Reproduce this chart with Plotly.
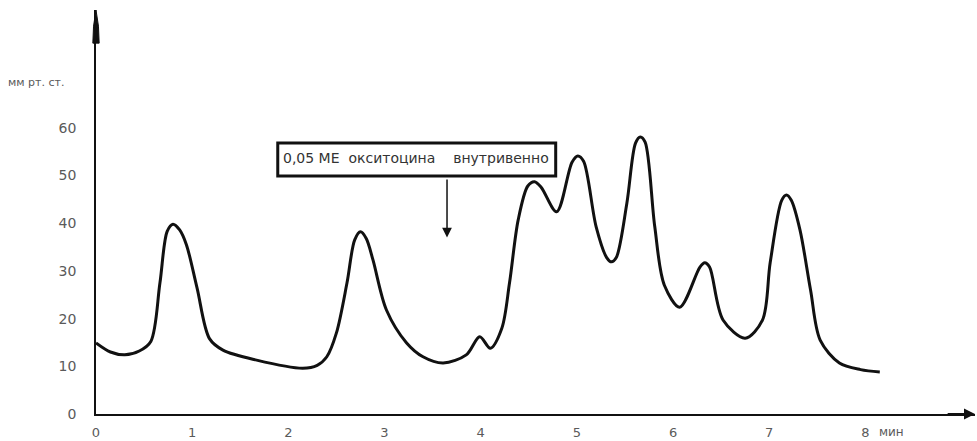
import plotly.graph_objects as go

# Intrauterine pressure trace, time in minutes
time_min = [0.00, 0.15, 0.30, 0.45, 0.57, 0.665, 0.74, 0.80, 0.87, 0.94,
            1.05, 1.18, 1.32, 1.67, 2.15, 2.30, 2.40, 2.50, 2.61,
            2.69, 2.75, 2.81, 2.88, 3.02, 3.23, 3.40, 3.61, 3.85, 3.99,
            4.10, 4.22, 4.30, 4.39, 4.49, 4.56, 4.63, 4.79,
            4.95, 5.01, 5.07, 5.20, 5.31, 5.36, 5.41, 5.52, 5.61, 5.66, 5.71, 5.81,
            5.91, 6.07, 6.28, 6.33, 6.38, 6.52, 6.75,
            6.93, 7.01, 7.13, 7.18, 7.23, 7.32, 7.43, 7.53, 7.73, 7.95,
            8.15]
pressure = [14.9, 13.0, 12.4, 13.2, 15.2, 27.5, 38.3, 39.8, 38.6, 35.5,
            26.5, 15.8, 13.4, 11.3, 9.6, 10.2, 12.0, 17.0, 27.5,
            36.5, 38.2, 36.8, 32.3, 21.8, 14.9, 12.0, 10.7, 12.4, 16.2,
            13.8, 18.0, 27.5, 40.7, 47.8, 48.7, 47.5, 42.4,
            52.8, 54.1, 53.0, 39.3, 32.8, 31.9, 32.8, 44.2, 56.8, 58.1, 57.0, 39.3,
            27.0, 22.4, 30.8, 31.7, 30.8, 19.7, 15.9,
            19.7, 31.7, 44.8, 45.9, 44.8, 38.6, 26.0, 15.5, 10.7, 9.3,
            8.8]

y_ticks = [0, 10, 20, 30, 40, 50, 60]
x_ticks = [0, 1, 2, 3, 4, 5, 6, 7, 8]

note_text = "0,05 МЕ  окситоцина    внутривенно"
note_time = 3.65
y_unit = "мм рт. ст."
x_unit = "мин"

X_MAX = 9.14
Y_MAX = 84.7
FONT = "DejaVu Sans"
GREY = "#5a5a5a"
INK = "#111111"

fig = go.Figure()
fig.add_trace(go.Scatter(
    x=time_min, y=pressure, mode="lines",
    line=dict(color=INK, width=3, shape="spline", smoothing=0.9),
    hoverinfo="skip", showlegend=False,
))

fig.update_layout(
    template="none",
    width=977, height=441,
    margin=dict(l=96, r=2, t=10, b=27),
    paper_bgcolor="white", plot_bgcolor="white",
    font=dict(family=FONT, color=GREY, size=13),
    xaxis=dict(range=[0, X_MAX], tickvals=x_ticks, ticktext=[str(v) for v in x_ticks],
               showgrid=False, zeroline=False, showline=True, linecolor=INK,
               linewidth=1.5, ticks="", ticklabelstandoff=6,
               tickfont=dict(size=13, color=GREY, family=FONT)),
    yaxis=dict(range=[0, Y_MAX], tickvals=y_ticks, showgrid=False, zeroline=False,
               showline=True, linecolor=INK, linewidth=1.5, ticks="",
               ticklabelstandoff=15,
               tickfont=dict(size=14, color=GREY, family=FONT)),
)

# Axis arrowheads: a narrow spike on the vertical axis, a small head on the time axis
fig.add_shape(type="path", xref="paper", yref="paper",
              path="M -0.0036,0.918 L -0.0028,0.96 L 0,1.0 L 0.0028,0.96 L 0.0036,0.918 Z",
              fillcolor=INK, line=dict(color=INK, width=1))
fig.add_annotation(x=X_MAX, y=0, ax=X_MAX - 0.3, ay=0, xref="x", yref="y", axref="x", ayref="y",
                   showarrow=True, arrowhead=2, arrowsize=1.1, arrowwidth=2,
                   arrowcolor=INK, text="")

# Axis units
fig.add_annotation(x=-0.068, y=0.82, xref="paper", yref="paper", text=y_unit, showarrow=False,
                   xanchor="center", yanchor="middle", font=dict(size=11, color=GREY, family=FONT))
fig.add_annotation(x=0.905, y=-0.045, xref="paper", yref="paper", text=x_unit, showarrow=False,
                   xanchor="center", yanchor="middle", font=dict(size=12, color=GREY, family=FONT))

# Injection note with arrow
fig.add_shape(type="rect", x0=1.89, x1=4.78, y0=49.9, y1=56.8, xref="x", yref="y",
              line=dict(color=INK, width=3), fillcolor="white")
fig.add_annotation(x=1.92, y=53.6, xref="x", yref="y", text=note_text, showarrow=False,
                   xanchor="left", font=dict(size=14, color="#333333", family=FONT))
fig.add_annotation(x=note_time, y=37.0, ax=note_time, ay=49.5, xref="x", yref="y",
                   axref="x", ayref="y", showarrow=True, arrowhead=2, arrowsize=1.3,
                   arrowwidth=1.5, arrowcolor=INK, text="")

fig.write_html("out.html")
